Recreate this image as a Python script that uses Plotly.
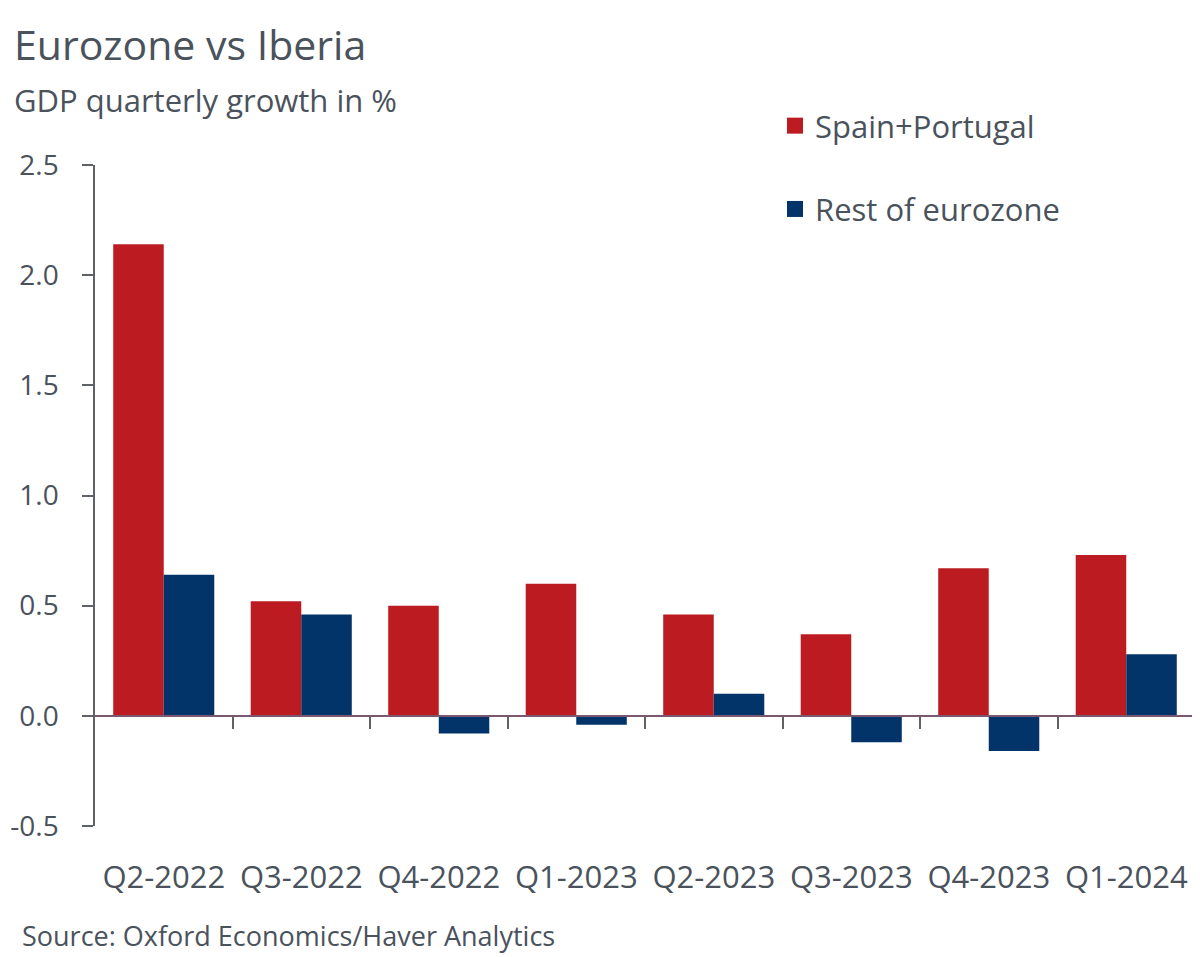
import plotly.graph_objects as go

categories = ["Q2-2022", "Q3-2022", "Q4-2022", "Q1-2023", "Q2-2023", "Q3-2023", "Q4-2023", "Q1-2024"]
spain_portugal = [2.14, 0.52, 0.50, 0.60, 0.46, 0.37, 0.67, 0.73]
rest_of_eurozone = [0.64, 0.46, -0.08, -0.04, 0.10, -0.12, -0.16, 0.28]
y_ticks = [-0.5, 0.0, 0.5, 1.0, 1.5, 2.0, 2.5]
y_tick_labels = ["-0.5", "0.0", "0.5", "1.0", "1.5", "2.0", "2.5"]
series_names = ["Spain+Portugal", "Rest of eurozone"]

RED = "#BD1B22"
BLUE = "#02346A"
TEXT = "#4A525C"
AXIS = "#5F6368"
FONT = "Open Sans"

# page body has an 8px default margin; build the figure to fill the rest of the window
OFF = 8
W, H = 1200 - OFF, 957 - OFF
L, R = 95 - OFF, 5
PLOT_TOP, PLOT_BOTTOM = 165 - OFF, 826 - OFF  # figure pixel rows of the y-range ends
y_dom = [1 - PLOT_BOTTOM / H, 1 - PLOT_TOP / H]
YMIN, YMAX = -0.5, 2.5
n = len(categories)


def px_x(px):  # window pixel -> paper x
    return (px - OFF - L) / (W - L - R)


def px_y(py):  # window pixel -> paper y
    return 1 - (py - OFF) / H


fig = go.Figure()
for name, vals, col in [(series_names[0], spain_portugal, RED),
                        (series_names[1], rest_of_eurozone, BLUE)]:
    fig.add_trace(go.Bar(x=categories, y=vals, name=name, showlegend=False,
                         marker=dict(color=col, line=dict(width=0)), xaxis="x2"))
# legend proxies (larger square swatches)
for i, (name, col) in enumerate([(series_names[0], RED), (series_names[1], BLUE)]):
    fig.add_trace(go.Scatter(x=[None], y=[None], name=name, mode="markers",
                             marker=dict(symbol="square", size=20, color=col),
                             legendgroup=str(i), xaxis="x2"))
# invisible trace carrying the zero-line axis with category-boundary ticks
fig.add_trace(go.Scatter(x=[None], y=[None], showlegend=False,
                         hoverinfo="skip", mode="lines", xaxis="x"))

zero_frac = (0 - YMIN) / (YMAX - YMIN)
zero_pos = y_dom[0] + zero_frac * (y_dom[1] - y_dom[0])

fig.update_layout(
    width=W, height=H,
    margin=dict(l=L, r=R, t=0, b=0, pad=0),
    paper_bgcolor="white", plot_bgcolor="white",
    font=dict(family=FONT, color=TEXT),
    barmode="group", bargap=0.265, bargroupgap=0,
    showlegend=True,
    legend=dict(x=px_x(775), y=px_y(99), xanchor="left", yanchor="top",
                font=dict(size=31, color=TEXT, family=FONT),
                traceorder="grouped", tracegroupgap=40,
                bgcolor="rgba(0,0,0,0)", itemwidth=30),
    xaxis=dict(type="linear", range=[-0.5, n - 0.5],
               tickmode="array", tickvals=[i + 0.5 for i in range(n - 1)],
               anchor="free", position=zero_pos, overlaying="x2",
               showline=True, linecolor="#7A5870", linewidth=1.5,
               ticks="outside", ticklen=12, tickwidth=1.5,
               tickcolor=AXIS, showticklabels=False, showgrid=False, zeroline=False,
               automargin=False),
    xaxis2=dict(type="category", categoryarray=categories, categoryorder="array",
                range=[-0.5, n - 0.5],
                anchor="y", showline=False, showgrid=False, zeroline=False,
                ticks="outside", ticklen=24, tickcolor="rgba(0,0,0,0)",
                tickfont=dict(size=31, color=TEXT, family=FONT),
                automargin=False),
    yaxis=dict(domain=y_dom, range=[YMIN, YMAX], tickvals=y_ticks, ticktext=y_tick_labels,
               showline=True, linecolor=AXIS, linewidth=1.5,
               ticks="outside", ticklen=11, tickwidth=1.5, tickcolor=AXIS,
               ticklabelstandoff=18,
               tickfont=dict(size=28, color=TEXT, family=FONT),
               showgrid=False, zeroline=False, automargin=False),
    annotations=[
        dict(text="Eurozone vs Iberia", x=px_x(12), y=px_y(14), xref="paper", yref="paper",
             showarrow=False, xanchor="left", yanchor="top",
             font=dict(size=41, color=TEXT, family=FONT)),
        dict(text="GDP quarterly growth in %", x=px_x(12), y=px_y(77), xref="paper", yref="paper",
             showarrow=False, xanchor="left", yanchor="top",
             font=dict(size=31, color=TEXT, family=FONT)),
        dict(text="Source: Oxford Economics/Haver Analytics", x=px_x(20), y=px_y(935),
             xref="paper", yref="paper",
             showarrow=False, xanchor="left", yanchor="middle",
             font=dict(size=27, color=TEXT, family=FONT)),
    ],
)

fig.write_html("out.html")
